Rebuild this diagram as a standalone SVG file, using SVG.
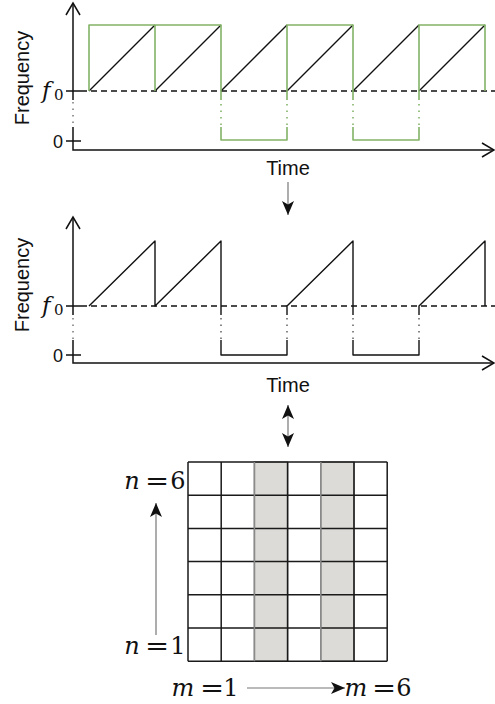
<svg xmlns="http://www.w3.org/2000/svg" width="495" height="704" viewBox="0 0 495 704">
<style>
.ax{stroke:#111;stroke-width:1.5;fill:none}
.axd{stroke:#777;stroke-width:1.5;fill:none;stroke-dasharray:1.5 5}
.ln{stroke:#111;stroke-width:1.4;fill:none;stroke-linejoin:round}
.lnd{stroke:#555;stroke-width:1.4;fill:none;stroke-dasharray:1.5 5}
.gr{stroke:#82b366;stroke-width:1.6;fill:none;stroke-linejoin:round}
.grd{stroke:#82b366;stroke-width:1.6;fill:none;stroke-dasharray:1.5 5}
.dash{stroke:#111;stroke-width:1.3;fill:none;stroke-dasharray:6 4}
.sans{font-family:"Liberation Sans",Arial,sans-serif;fill:#111}
.lbl{font-size:20px}
.tick{font-size:18px}
.math{font-family:"DejaVu Serif","Liberation Serif",serif;fill:#111;font-size:24px}
.fm{font-size:23px}
.sub{font-size:15px}
.it{font-style:italic}
.con{stroke:#777;stroke-width:1.2;fill:none}
.shade{fill:#dcdbd7;stroke:#8a8a8a;stroke-width:1.5}
</style>
<defs>
<marker id="arr" viewBox="0 0 14 12" refX="14" refY="6" markerWidth="14" markerHeight="12" markerUnits="userSpaceOnUse" orient="auto-start-reverse">
<path d="M0,0 L14,6 L0,12 L3.5,6 z" fill="#111"/>
</marker>
</defs>

<g id="chart-top">
<text class="sans lbl" transform="translate(29,78) rotate(-90)" text-anchor="middle">Frequency</text>
<path class="ax" d="M73,100 V3 M73,127 V150 H494"/>
<path class="axd" d="M73,102 V127"/>
<path class="ax" d="M66,15 L73,3 L80,15 M482,143 L494,150 L482,157"/>
<path class="ax" d="M66,91 H81 M66,141 H81"/>
<text class="math it fm" x="42" y="98">f</text>
<text class="math sub" x="54" y="100">0</text>
<text class="sans tick" x="63" y="148" text-anchor="end">0</text>
<path class="dash" d="M81,91 H495"/>
<path class="ln" d="M89,91 L155,25 M155,91 L221,25 M221,91 L287,25 M287,91 L353,25 M353,91 L419,25 M419,91 L485,25"/>
<path class="gr" d="M89,91 V25 H221 V100 M155,25 V91 M221,127 V140 H287 V127 M287,100 V25 H353 V100 M353,127 V140 H419 V127 M419,100 V25 H485 V91"/>
<path class="grd" d="M221,104 V127 M287,104 V127 M353,104 V127 M419,104 V127"/>
<text class="sans lbl" x="288" y="175" text-anchor="middle">Time</text>
</g>

<g id="chart-mid">
<text class="sans lbl" transform="translate(29,285) rotate(-90)" text-anchor="middle">Frequency</text>
<path class="ax" d="M73,315 V217 M73,340 V363 H494"/>
<path class="axd" d="M73,318 V340"/>
<path class="ax" d="M66,229 L73,217 L80,229 M482,356 L494,363 L482,370"/>
<path class="ax" d="M66,306 H81 M66,355 H81"/>
<text class="math it fm" x="42" y="313">f</text>
<text class="math sub" x="54" y="315">0</text>
<text class="sans tick" x="63" y="362" text-anchor="end">0</text>
<path class="dash" d="M81,306 H495"/>
<path class="ln" d="M89,306 L155,241 V306 L221,241 V315 M221,340 V355 H287 V340 M287,315 V306 L353,241 V315 M353,340 V355 H419 V340 M419,315 V306 L485,241 V306"/>
<path class="lnd" d="M221,318 V340 M287,318 V340 M353,318 V340 M419,318 V340"/>
<text class="sans lbl" x="288" y="392" text-anchor="middle">Time</text>
</g>

<g id="grid">
<rect class="shade" x="254.4" y="462" width="33.2" height="199.2"/>
<rect class="shade" x="320.8" y="462" width="33.2" height="199.2"/>
<path stroke="#1a1a1a" stroke-width="1.5" fill="none" d="M188,462 H387.2 M188,495.2 H387.2 M188,528.4 H387.2 M188,561.6 H387.2 M188,594.8 H387.2 M188,628 H387.2 M188,661.2 H387.2 M188,462 V661.2 M221.2,462 V661.2 M287.6,462 V661.2 M354,462 V661.2 M387.2,462 V661.2"/>
<path stroke="#8a8a8a" stroke-width="1.5" fill="none" d="M254.4,462 V661.2 M320.8,462 V661.2"/>
</g>

<g id="labels">
<text class="math it" x="132" y="489" text-anchor="middle">n</text>
<text class="math" transform="translate(157,489) scale(1.2,1)" text-anchor="middle">=</text>
<text class="math" x="178" y="489" text-anchor="middle">6</text>
<text class="math it" x="132" y="654" text-anchor="middle">n</text>
<text class="math" transform="translate(157,654) scale(1.2,1)" text-anchor="middle">=</text>
<text class="math" x="178" y="654" text-anchor="middle">1</text>
<text class="math it" x="183" y="696" text-anchor="middle">m</text>
<text class="math" transform="translate(212,696) scale(1.2,1)" text-anchor="middle">=</text>
<text class="math" x="231" y="696" text-anchor="middle">1</text>
<text class="math it" x="356" y="696" text-anchor="middle">m</text>
<text class="math" transform="translate(384,696) scale(1.2,1)" text-anchor="middle">=</text>
<text class="math" x="404" y="696" text-anchor="middle">6</text>
</g>

<g id="connectors">
<line class="con" x1="288" y1="182" x2="288" y2="215" marker-end="url(#arr)"/>
<line class="con" x1="288" y1="405" x2="288" y2="447" marker-start="url(#arr)" marker-end="url(#arr)"/>
<line class="con" x1="156" y1="635" x2="156" y2="503" marker-end="url(#arr)"/>
<line class="con" x1="247" y1="688" x2="345" y2="688" marker-end="url(#arr)"/>
</g>
</svg>
